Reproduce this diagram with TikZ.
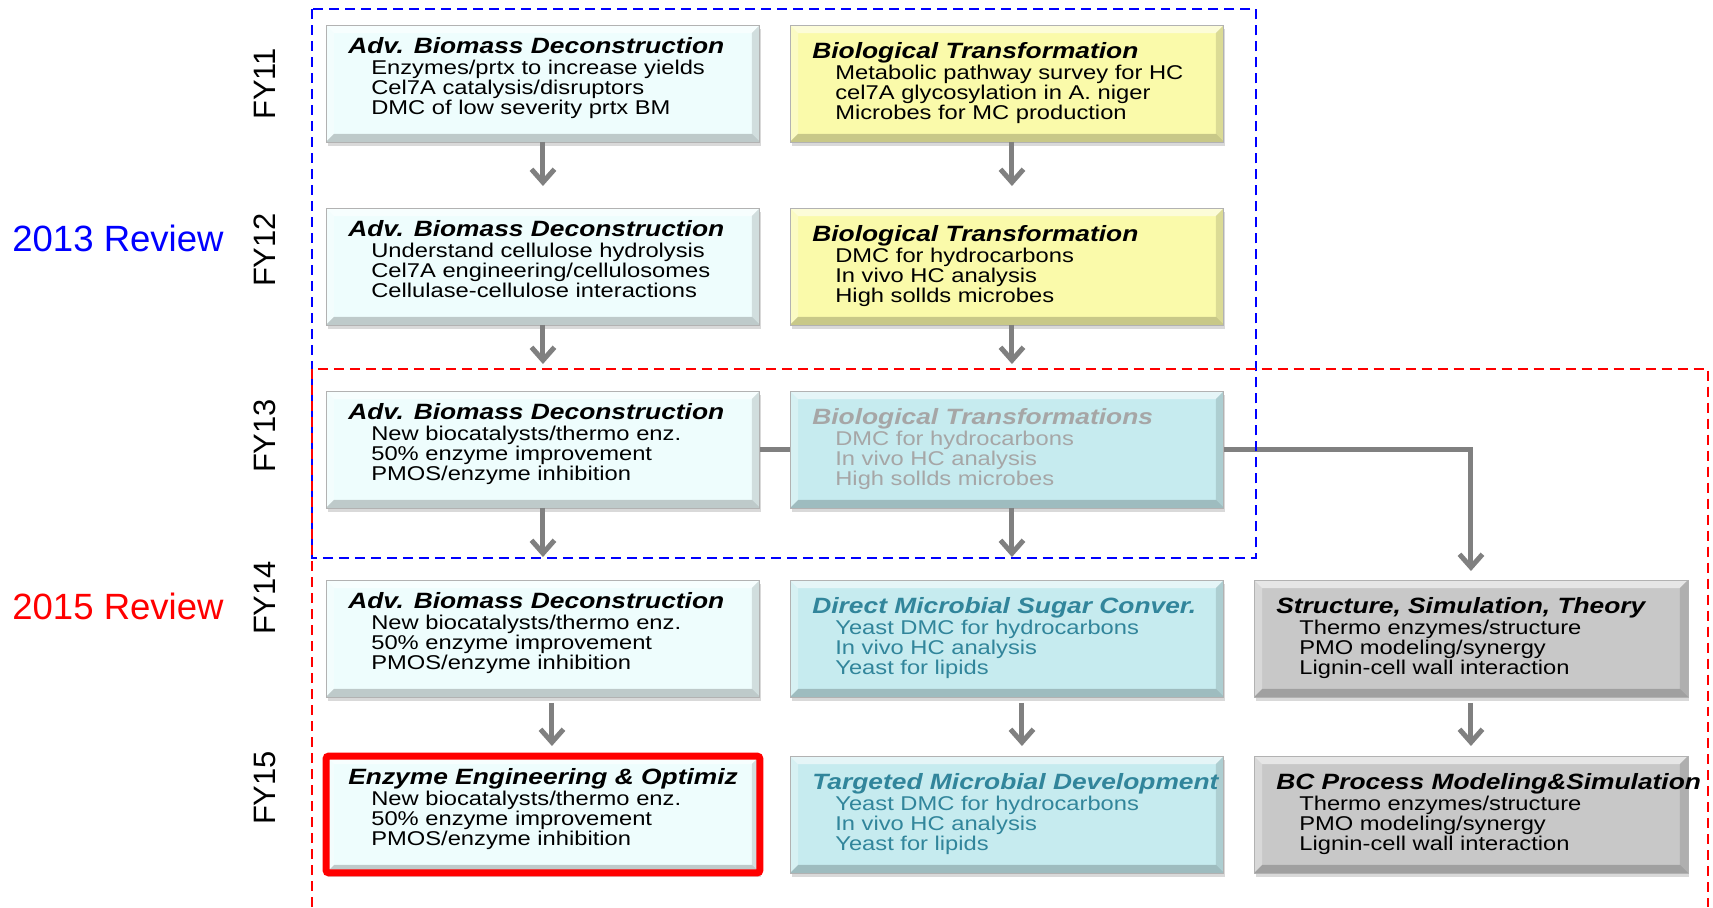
\documentclass[tikz,border=0pt]{standalone}
\usepackage{fontspec}
\usepackage{graphicx}
\setmainfont{Liberation Sans}
\usetikzlibrary{arrows.meta,shadows}
\pgfdeclarelayer{background}
\pgfsetlayers{background,main}
\definecolor{cyanlt}{RGB}{238,253,253}
\definecolor{yel}{RGB}{250,250,170}
\definecolor{tealb}{RGB}{198,235,239}
\definecolor{grayb}{RGB}{200,200,200}
\definecolor{tealtx}{RGB}{49,133,155}
\definecolor{fadetx}{RGB}{166,166,166}
\definecolor{arrgray}{RGB}{128,128,128}
\newcommand\bvl{0.16cm}
\newcommand\toff{28}
\newcommand\sq[1]{\scalebox{1}[0.84]{#1}}
\newcommand\mkbox[9]{%
  \node[box, fill=#4, anchor=north west] (#1) at (#2,#3) {};
  \fill[white, opacity=0.55] (#1.north west) -- (#1.north east) -- ([shift={(-\bvl,-\bvl)}]#1.north east) -- ([shift={(\bvl,-\bvl)}]#1.north west) -- cycle;
  \fill[white, opacity=0.3] (#1.north west) -- ([shift={(\bvl,-\bvl)}]#1.north west) -- ([shift={(\bvl,\bvl)}]#1.south west) -- (#1.south west) -- cycle;
  \fill[black, opacity=0.12] (#1.north east) -- ([shift={(-\bvl,-\bvl)}]#1.north east) -- ([shift={(-\bvl,\bvl)}]#1.south east) -- (#1.south east) -- cycle;
  \fill[black, opacity=0.2] (#1.south west) -- ([shift={(\bvl,\bvl)}]#1.south west) -- ([shift={(-\bvl,\bvl)}]#1.south east) -- (#1.south east) -- cycle;
  \draw[black!30, line width=0.5pt] (#1.north west) rectangle (#1.south east);
  \node[ttl, text=#5] (#1-t) at (#2+22,#3+\toff) {\sq{#6}};
  \node[bdy, text=#5] (#1-a) at (#2+45,#3+\toff+21) {\sq{#7}};
  \node[bdy, text=#5] (#1-b) at (#2+45,#3+\toff+41) {\sq{#8}};
  \node[bdy, text=#5] (#1-c) at (#2+45,#3+\toff+61) {\sq{#9}};
}
\tikzset{
  box/.style={draw=black!30, line width=0.5pt, outer sep=0pt, inner sep=0pt,
    minimum width=8.68cm, minimum height=2.34cm,
    drop shadow={shadow xshift=0.03cm, shadow yshift=-0.08cm, opacity=0.3}},
  ttl/.style={anchor=base west, inner sep=0pt, font=\fontsize{15}{15}\selectfont\bfseries\itshape},
  bdy/.style={anchor=base west, inner sep=0pt, font=\fontsize{13.5}{13.5}\selectfont},
  flow/.style={draw=arrgray, line width=0.1cm, -{Straight Barb[length=0.26cm,width=0.46cm]}},
  fylabel/.style={rotate=90, inner sep=0pt, font=\fontsize{17.6}{17.6}\selectfont},
  revlabel/.style={anchor=base west, inner sep=0pt, font=\fontsize{20.8}{20.8}\selectfont},
  frame/.style={line width=0.04cm, dash pattern=on 0.2cm off 0.12cm}
}
\begin{document}
\begin{tikzpicture}[x=0.02cm,y=-0.02cm]
\useasboundingbox (0,0) rectangle (1713,907);
% column 1
\renewcommand\toff{28}
\mkbox{c1r1}{326}{25}{cyanlt}{black}{Adv. Biomass Deconstruction}{Enzymes/prtx to increase yields}{Cel7A catalysis/disruptors}{DMC of low severity prtx BM}
\mkbox{c1r2}{326}{208}{cyanlt}{black}{Adv. Biomass Deconstruction}{Understand cellulose hydrolysis}{Cel7A engineering/cellulosomes}{Cellulase-cellulose interactions}
\mkbox{c1r3}{326}{391}{cyanlt}{black}{Adv. Biomass Deconstruction}{New biocatalysts/thermo enz.}{50\% enzyme improvement}{PMOS/enzyme inhibition}
\mkbox{c1r4}{326}{580}{cyanlt}{black}{Adv. Biomass Deconstruction}{New biocatalysts/thermo enz.}{50\% enzyme improvement}{PMOS/enzyme inhibition}
\mkbox{c1r5}{326}{756}{cyanlt}{black}{Enzyme Engineering \& Optimiz}{New biocatalysts/thermo enz.}{50\% enzyme improvement}{PMOS/enzyme inhibition}
\draw[red, line width=0.14cm, rounded corners=0.06cm] (c1r5.north west) rectangle (c1r5.south east);
% column 2
\renewcommand\toff{33}
\mkbox{c2r1}{790}{25}{yel}{black}{Biological Transformation}{Metabolic pathway survey for HC}{cel7A glycosylation in A. niger}{Microbes for MC production}
\mkbox{c2r2}{790}{208}{yel}{black}{Biological Transformation}{DMC for hydrocarbons}{In vivo HC analysis}{High sollds microbes}
\mkbox{c2r3}{790}{391}{tealb}{fadetx}{Biological Transformations}{DMC for hydrocarbons}{In vivo HC analysis}{High sollds microbes}
\mkbox{c2r4}{790}{580}{tealb}{tealtx}{Direct Microbial Sugar Conver.}{Yeast DMC for hydrocarbons}{In vivo HC analysis}{Yeast for lipids}
\mkbox{c2r5}{790}{756}{tealb}{tealtx}{Targeted Microbial Development}{Yeast DMC for hydrocarbons}{In vivo HC analysis}{Yeast for lipids}
% column 3
\mkbox{c3r4}{1254}{580}{grayb}{black}{Structure, Simulation, Theory}{Thermo enzymes/structure}{PMO modeling/synergy}{Lignin-cell wall interaction}
\mkbox{c3r5}{1254}{756}{grayb}{black}{BC Process Modeling\&Simulation}{Thermo enzymes/structure}{PMO modeling/synergy}{Lignin-cell wall interaction}
% connectors
\begin{pgfonlayer}{background}
\draw[flow, shorten >=0.18cm] (c1r3.east) -| (c3r4.north);
\end{pgfonlayer}
\draw[flow, shorten >=0.44cm] (c1r1.south) -- (c1r2.north);
\draw[flow, shorten >=0.54cm] (c1r2.south) -- (c1r3.north);
\draw[flow, shorten >=0.46cm] (c1r3.south) -- (c1r4.north);
\draw[flow, shorten <=0.12cm, shorten >=0.2cm] ([xshift=0.18cm]c1r4.south) -- ([xshift=0.18cm]c1r5.north);
\draw[flow, shorten >=0.44cm] ([xshift=0.1cm]c2r1.south) -- ([xshift=0.1cm]c2r2.north);
\draw[flow, shorten >=0.54cm] ([xshift=0.1cm]c2r2.south) -- ([xshift=0.1cm]c2r3.north);
\draw[flow, shorten >=0.46cm] ([xshift=0.1cm]c2r3.south) -- ([xshift=0.1cm]c2r4.north);
\draw[flow, shorten <=0.12cm, shorten >=0.2cm] ([xshift=0.3cm]c2r4.south) -- ([xshift=0.3cm]c2r5.north);
\draw[flow, shorten <=0.12cm, shorten >=0.2cm] (c3r4.south) -- (c3r5.north);
% review frames
\draw[blue, frame] (312,9) rectangle (1256,558);
\draw[red, frame] (312,907) -- (312,369) -- (1708,369) -- (1708,907);
% labels
\node[revlabel, text=blue] (rev13) at (12,251) {2013 Review};
\node[revlabel, text=red] (rev15) at (12,619) {2015 Review};
\node[fylabel] (fy11) at (265,84) {FY11};
\node[fylabel] (fy12) at (265,250) {FY12};
\node[fylabel] (fy13) at (265,436) {FY13};
\node[fylabel] (fy14) at (265,598) {FY14};
\node[fylabel] (fy15) at (265,788) {FY15};
\end{tikzpicture}
\end{document}
